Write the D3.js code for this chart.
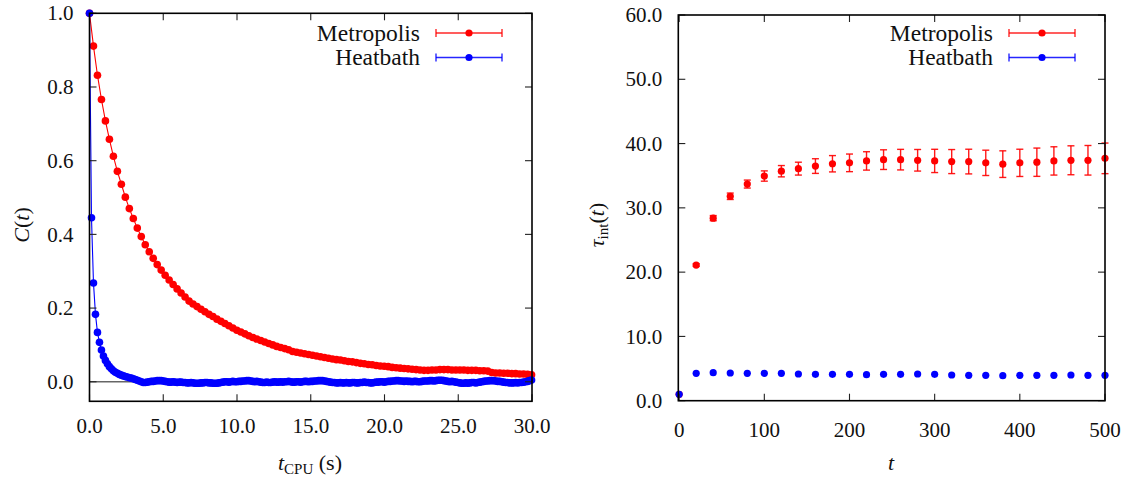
<!DOCTYPE html>
<html>
<head>
<meta charset="utf-8">
<script src="https://cdn.jsdelivr.net/npm/d3@7"></script>
<style>
  html, body { margin: 0; padding: 0; background: #fff; }
  svg { display: block; }
  text { font-family: "Liberation Serif", "DejaVu Serif", serif; fill: #111; }
</style>
</head>
<body>
<svg id="chart" width="1136" height="477"></svg>
<script>
// ---------------- DATA ----------------
// Left panel: autocorrelation C(t) vs CPU time (s)
const metroStep = 0.27;   // CPU seconds between Metropolis measurements
const heatStep = 0.135;   // CPU seconds between Heatbath measurements
const metroC = [
  1.000, 0.911, 0.832, 0.766, 0.708, 0.658, 0.612, 0.571, 0.536, 0.501,
  0.470, 0.443, 0.417, 0.394, 0.372, 0.353, 0.335, 0.318, 0.303, 0.289,
  0.276, 0.264, 0.252, 0.241, 0.230, 0.219, 0.211, 0.204, 0.197, 0.190,
  0.183, 0.177, 0.170, 0.164, 0.158, 0.152, 0.146, 0.140, 0.135, 0.130,
  0.125, 0.120, 0.116, 0.112, 0.108, 0.104, 0.100, 0.096, 0.093, 0.090,
  0.087, 0.082, 0.080, 0.078, 0.076, 0.074, 0.072, 0.070, 0.068, 0.066,
  0.064, 0.062, 0.060, 0.059, 0.057, 0.055, 0.054, 0.052, 0.050, 0.049,
  0.047, 0.046, 0.044, 0.043, 0.042, 0.041, 0.039, 0.038, 0.037, 0.036,
  0.035, 0.034, 0.033, 0.032, 0.031, 0.031, 0.032, 0.032, 0.033, 0.033,
  0.033, 0.032, 0.032, 0.032, 0.032, 0.031, 0.031, 0.031, 0.030, 0.030,
  0.029, 0.025, 0.024, 0.024, 0.023, 0.023, 0.022, 0.022, 0.021, 0.021,
  0.020, 0.019
];
const heatC = [
  1.000, 0.445, 0.268, 0.183, 0.134, 0.107, 0.086, 0.070, 0.058, 0.049,
  0.041, 0.035, 0.030, 0.026, 0.023, 0.020, 0.018, 0.016, 0.014, 0.013,
  0.011, 0.010, 0.008, 0.006, 0.004, 0.002, 0.000, -0.002, -0.002, -0.001,
  0.000, 0.001, 0.001, 0.002, 0.003, 0.003, 0.003, 0.002, 0.001, 0.000,
  -0.001, -0.001, 0.000, -0.001, -0.002, -0.001, -0.001, -0.002, -0.002, -0.003,
  -0.003, -0.002, -0.003, -0.004, -0.004, -0.004, -0.003, -0.003, -0.002, -0.002,
  -0.003, -0.003, -0.004, -0.004, -0.004, -0.003, -0.002, -0.001, 0.000, 0.000,
  -0.001, 0.000, 0.001, 0.000, 0.000, 0.001, 0.001, 0.002, 0.002, 0.003,
  0.003, 0.002, 0.001, 0.000, 0.001, 0.000, -0.001, -0.002, -0.002, -0.001,
  -0.002, -0.002, -0.001, 0.000, -0.001, -0.001, 0.000, -0.001, 0.000, 0.000,
  0.001, 0.000, -0.001, -0.001, 0.000, 0.000, -0.001, 0.000, 0.001, 0.001,
  0.000, 0.001, 0.001, 0.002, 0.002, 0.003, 0.003, 0.003, 0.002, 0.001,
  0.000, -0.001, -0.002, -0.002, -0.003, -0.003, -0.002, -0.003, -0.003, -0.002,
  -0.003, -0.003, -0.002, -0.002, -0.003, -0.003, -0.002, -0.002, -0.001, -0.002,
  -0.002, -0.003, -0.003, -0.002, -0.001, -0.001, 0.000, 0.000, -0.001, 0.000,
  0.001, 0.001, 0.002, 0.002, 0.003, 0.003, 0.002, 0.002, 0.001, 0.002,
  0.001, 0.001, 0.000, 0.001, 0.001, 0.000, 0.000, 0.001, 0.002, 0.002,
  0.002, 0.003, 0.003, 0.002, 0.003, 0.004, 0.004, 0.004, 0.003, 0.002,
  0.001, 0.000, 0.001, 0.000, -0.001, -0.002, -0.003, -0.004, -0.004, -0.003,
  -0.004, -0.003, -0.002, -0.002, -0.003, -0.002, -0.001, 0.000, 0.001, 0.002,
  0.002, 0.003, 0.003, 0.003, 0.002, 0.001, 0.001, 0.000, -0.001, -0.002,
  -0.002, -0.003, -0.003, -0.003, -0.002, -0.003, -0.002, -0.002, -0.001, 0.000,
  0.001, 0.003, 0.005
];
const leftXTicks = [0, 5, 10, 15, 20, 25, 30];
const leftYTicks = [0.0, 0.2, 0.4, 0.6, 0.8, 1.0];

// Right panel: integrated autocorrelation time tau_int(t)
const lagT = [0, 20, 40, 60, 80, 100, 120, 140, 160, 180, 200, 220, 240,
  260, 280, 300, 320, 340, 360, 380, 400, 420, 440, 460, 480, 500];
const tauMetro = [1.0, 21.1, 28.4, 31.8, 33.7, 34.95, 35.7, 36.1, 36.5, 36.86,
  37.0, 37.3, 37.5, 37.5, 37.4, 37.3, 37.2, 37.2, 37.0, 36.8, 37.0, 37.1,
  37.3, 37.4, 37.4, 37.7];
const tauMetroErr = [0, 0.2, 0.4, 0.5, 0.62, 0.8, 0.88, 1.0, 1.14, 1.27,
  1.37, 1.43, 1.53, 1.6, 1.68, 1.81, 1.87, 1.92, 1.97, 2.07, 2.12, 2.2,
  2.2, 2.25, 2.3, 2.38];
const tauHeat = [1.0, 4.26, 4.36, 4.31, 4.26, 4.26, 4.26, 4.15, 4.1, 4.1,
  4.1, 4.05, 4.1, 4.1, 4.15, 4.1, 4.0, 3.95, 3.95, 3.9, 3.95, 3.95, 3.95,
  4.0, 3.95, 3.95];
const rightXTicks = [0, 100, 200, 300, 400, 500];
const rightYTicks = [0, 10, 20, 30, 40, 50, 60];

const seriesNames = ["Metropolis", "Heatbath"];
const seriesColors = ["#ff0000", "#0000ff"];

// ---------------- DRAWING ----------------
const svg = d3.select("#chart");
const TICK = 7;
const FS_TICK = 21;
const FS_LAB = 22;
const FS_LEG = 23.5;

function frame(g, x, y, xTicks, yTicks, xFmt, yFmt, xLabelY) {
  const [x0, x1] = x.range();
  const [y0, y1] = y.range(); // y0 bottom, y1 top
  const tk = g.append("g").attr("stroke", "#222").attr("stroke-width", 1.1);
  xTicks.forEach(v => {
    const px = x(v);
    tk.append("line").attr("x1", px).attr("x2", px).attr("y1", y0).attr("y2", y0 - TICK);
    tk.append("line").attr("x1", px).attr("x2", px).attr("y1", y1).attr("y2", y1 + TICK);
  });
  yTicks.forEach(v => {
    const py = y(v);
    tk.append("line").attr("x1", x0).attr("x2", x0 + TICK).attr("y1", py).attr("y2", py);
    tk.append("line").attr("x1", x1).attr("x2", x1 - TICK).attr("y1", py).attr("y2", py);
  });
  g.append("rect").attr("x", x0).attr("y", y1).attr("width", x1 - x0).attr("height", y0 - y1)
    .attr("fill", "none").attr("stroke", "#000").attr("stroke-width", 1.6);
  g.append("g").selectAll("text").data(xTicks).join("text")
    .attr("x", d => x(d)).attr("y", xLabelY).attr("text-anchor", "middle")
    .attr("font-size", FS_TICK).text(xFmt);
  g.append("g").selectAll("text").data(yTicks).join("text")
    .attr("x", x0 - 16).attr("y", d => y(d)).attr("dy", "0.34em").attr("text-anchor", "end")
    .attr("font-size", FS_TICK).text(yFmt);
}

function legend(g, xRight, names, colors) {
  names.forEach((n, i) => {
    const yy = 33 + i * 24.5;
    g.append("text").attr("x", xRight - 112).attr("y", yy).attr("dy", "0.32em")
      .attr("text-anchor", "end").attr("font-size", FS_LEG).text(n);
    const lx0 = xRight - 96, lx1 = xRight - 30;
    const lg = g.append("g").attr("stroke", colors[i]).attr("stroke-width", 1.4).attr("stroke-opacity", 0.85);
    lg.append("line").attr("x1", lx0).attr("x2", lx1).attr("y1", yy).attr("y2", yy);
    lg.append("line").attr("x1", lx0).attr("x2", lx0).attr("y1", yy - 4).attr("y2", yy + 4);
    lg.append("line").attr("x1", lx1).attr("x2", lx1).attr("y1", yy - 4).attr("y2", yy + 4);
    g.append("circle").attr("cx", (lx0 + lx1) / 2).attr("cy", yy).attr("r", 3.6).attr("fill", colors[i]);
  });
}

// ---------- Left panel ----------
const xL = d3.scaleLinear().domain([0, 30]).range([89.5, 532]);
const yL = d3.scaleLinear().domain([-0.053, 1.0]).range([401.3, 13.3]);
const gL = svg.append("g");

gL.append("line").attr("x1", xL(0)).attr("x2", xL(30)).attr("y1", yL(0)).attr("y2", yL(0))
  .attr("stroke", "#666").attr("stroke-width", 1.3);

const metroPts = metroC.map((v, i) => [i * metroStep, v]);
const heatPts = heatC.map((v, i) => [i * heatStep, v]);
const lineL = d3.line().x(d => xL(d[0])).y(d => yL(d[1]));

[[metroPts, seriesColors[0]], [heatPts, seriesColors[1]]].forEach(([pts, col]) => {
  gL.append("path").datum(pts).attr("d", lineL).attr("fill", "none")
    .attr("stroke", col).attr("stroke-width", 1.1);
  gL.append("g").selectAll("circle").data(pts).join("circle")
    .attr("cx", d => xL(d[0])).attr("cy", d => yL(d[1])).attr("r", 3.8).attr("fill", col);
});

frame(gL, xL, yL, leftXTicks, leftYTicks, d => d3.format(".1f")(d), d => d3.format(".1f")(d), 433);
legend(gL, 532, seriesNames, seriesColors);

const xtL = gL.append("text").attr("x", 310).attr("y", 470).attr("text-anchor", "middle").attr("font-size", FS_LAB);
xtL.append("tspan").attr("font-style", "italic").text("t");
xtL.append("tspan").attr("font-size", 15).attr("dy", 4).text("CPU");
xtL.append("tspan").attr("dy", -4).text(" (s)");

const ytL = gL.append("text").attr("transform", "translate(29,225) rotate(-90)")
  .attr("text-anchor", "middle").attr("font-size", FS_LAB);
ytL.append("tspan").attr("font-style", "italic").text("C");
ytL.append("tspan").text("(");
ytL.append("tspan").attr("font-style", "italic").text("t");
ytL.append("tspan").text(")");

// ---------- Right panel ----------
const xR = d3.scaleLinear().domain([-1, 500]).range([678.3, 1105]);
const yR = d3.scaleLinear().domain([0, 60]).range([400.7, 15]);
const gR = svg.append("g");

const eb = gR.append("g").attr("stroke", seriesColors[0]).attr("stroke-width", 1.4).attr("stroke-opacity", 0.9);
lagT.forEach((t, i) => {
  const e = tauMetroErr[i];
  if (e <= 0) return;
  const px = xR(t), yt = yR(tauMetro[i] + e), yb = yR(tauMetro[i] - e);
  eb.append("line").attr("x1", px).attr("x2", px).attr("y1", yt).attr("y2", yb);
  eb.append("line").attr("x1", px - 3.5).attr("x2", px + 3.5).attr("y1", yt).attr("y2", yt);
  eb.append("line").attr("x1", px - 3.5).attr("x2", px + 3.5).attr("y1", yb).attr("y2", yb);
});
gR.append("g").selectAll("circle").data(lagT).join("circle")
  .attr("cx", d => xR(d)).attr("cy", (d, i) => yR(tauMetro[i])).attr("r", 3.6).attr("fill", seriesColors[0]);
gR.append("g").selectAll("circle").data(lagT).join("circle")
  .attr("cx", d => xR(d)).attr("cy", (d, i) => yR(tauHeat[i])).attr("r", 3.6).attr("fill", seriesColors[1]);

frame(gR, xR, yR, rightXTicks, rightYTicks, d => String(d), d => d3.format(".1f")(d), 437);
legend(gR, 1105, seriesNames, seriesColors);

gR.append("text").attr("x", 891).attr("y", 470).attr("text-anchor", "middle")
  .attr("font-size", FS_LAB).attr("font-style", "italic").text("t");

const ytR = gR.append("text").attr("transform", "translate(604,225) rotate(-90)")
  .attr("text-anchor", "middle").attr("font-size", FS_LAB);
ytR.append("tspan").attr("font-style", "italic").text("τ");
ytR.append("tspan").attr("font-size", 15).attr("dy", 4).text("int");
ytR.append("tspan").attr("dy", -4).text("(");
ytR.append("tspan").attr("font-style", "italic").text("t");
ytR.append("tspan").text(")");
</script>
</body>
</html>
